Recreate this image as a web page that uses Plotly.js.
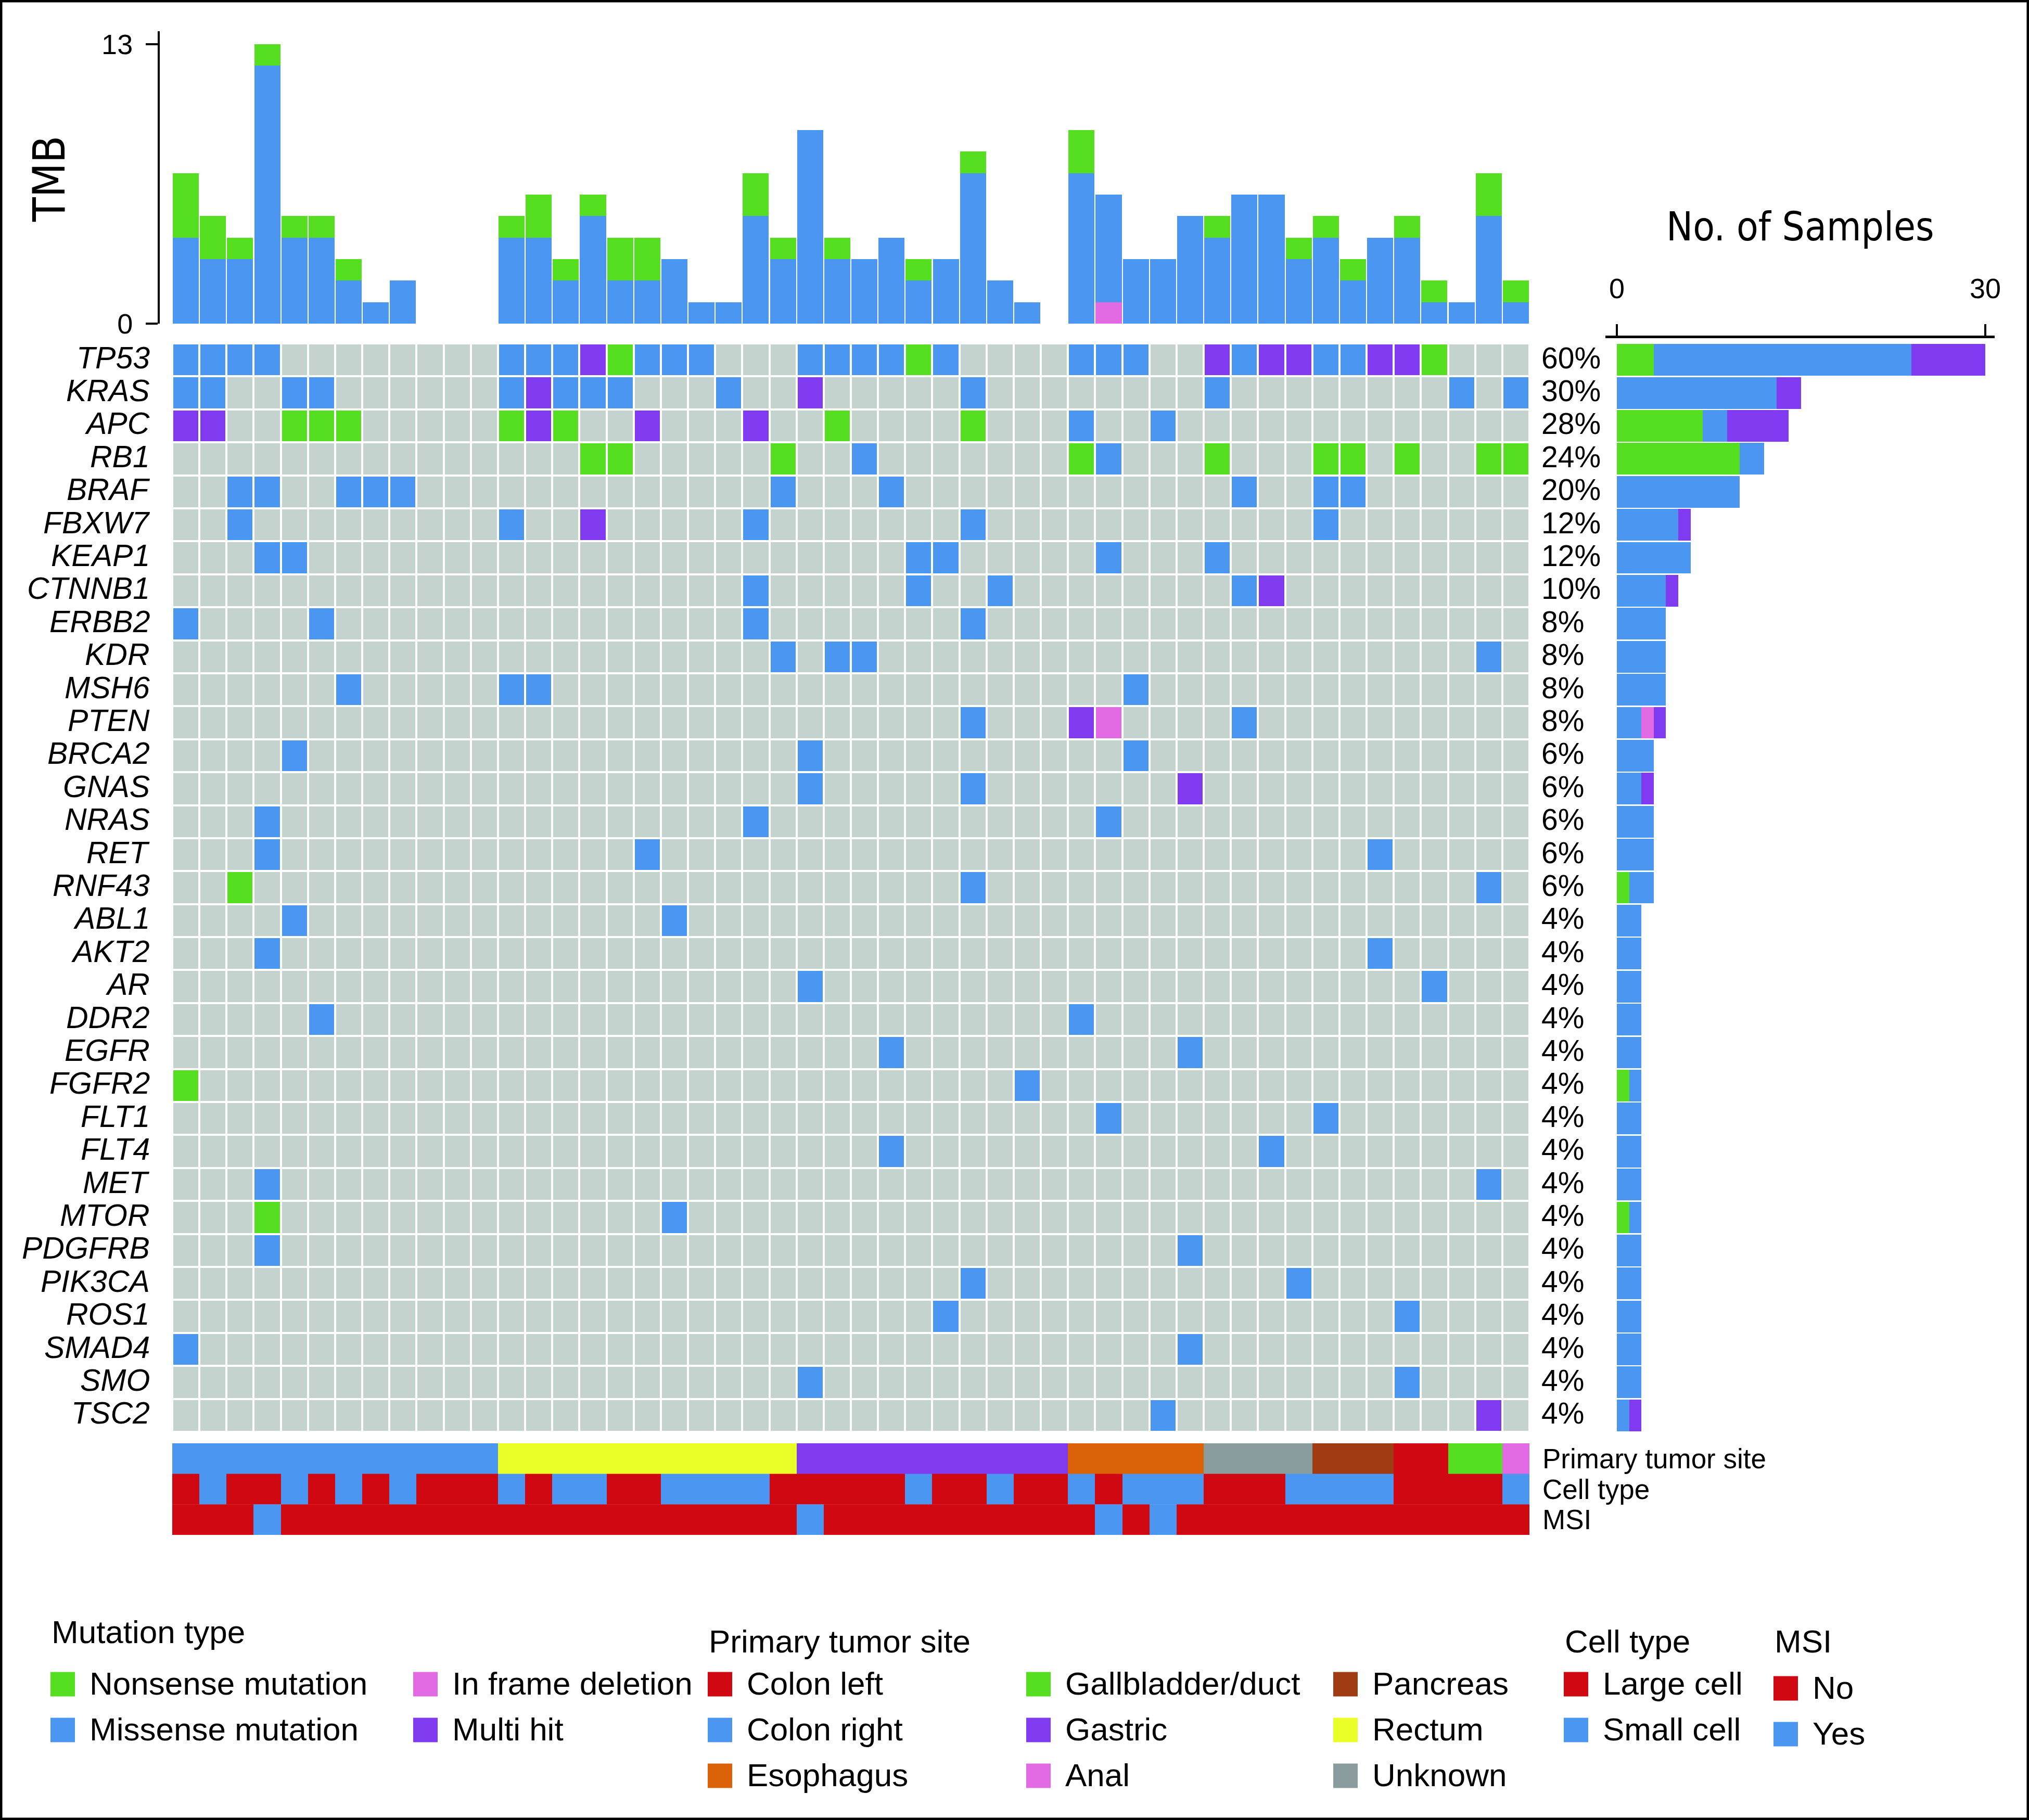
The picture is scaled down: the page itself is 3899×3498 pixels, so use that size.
<!DOCTYPE html>
<html><head><meta charset="utf-8">
<script src="https://cdn.plot.ly/plotly-3.0.1.min.js"></script>
<style>html,body{margin:0;padding:0;background:#fff;} #chart{width:3899px;height:3498px;}</style>
</head><body><div id="chart"></div>
<script>
// ---------------- DATA ----------------
const genes = ['TP53','KRAS','APC','RB1','BRAF','FBXW7','KEAP1','CTNNB1','ERBB2','KDR','MSH6','PTEN','BRCA2','GNAS','NRAS','RET','RNF43','ABL1','AKT2','AR','DDR2','EGFR','FGFR2','FLT1','FLT4','MET','MTOR','PDGFRB','PIK3CA','ROS1','SMAD4','SMO','TSC2'];

// sample positions (0-based columns) carrying each alteration, one list per gene
const missenseIdx = [
  [0,1,2,3,12,13,14,17,18,19,23,24,25,26,28,33,34,35,39,42,43], // TP53
  [0,1,4,5,12,14,15,16,20,29,38,47,49], // KRAS
  [33,36],            // APC
  [25,34],            // RB1
  [2,3,6,7,8,22,26,39,42,43], // BRAF
  [2,12,21,29,42],    // FBXW7
  [3,4,27,28,34,38],  // KEAP1
  [21,27,30,39],      // CTNNB1
  [0,5,21,29],        // ERBB2
  [22,24,25,48],      // KDR
  [6,12,13,35],       // MSH6
  [29,39],            // PTEN
  [4,23,35],          // BRCA2
  [23,29],            // GNAS
  [3,21,34],          // NRAS
  [3,17,44],          // RET
  [29,48],            // RNF43
  [4,18],             // ABL1
  [3,44],             // AKT2
  [23,46],            // AR
  [5,33],             // DDR2
  [26,37],            // EGFR
  [31],               // FGFR2
  [34,42],            // FLT1
  [26,40],            // FLT4
  [3,48],             // MET
  [18],               // MTOR
  [3,37],             // PDGFRB
  [29,41],            // PIK3CA
  [28,45],            // ROS1
  [0,37],             // SMAD4
  [23,45],            // SMO
  [36]                // TSC2
];
const nonsenseIdx = [
  [16,27,46],                         // TP53
  [],                                 // KRAS
  [4,5,6,12,14,24,29],                // APC
  [15,16,22,33,38,42,43,45,48,49],    // RB1
  [], [], [], [], [], [], [], [], [], [], [], [], // BRAF .. RET
  [2],                                // RNF43
  [], [], [], [], [],                 // ABL1 AKT2 AR DDR2 EGFR
  [0],                                // FGFR2
  [], [], [],                         // FLT1 FLT4 MET
  [3],                                // MTOR
  [], [], [], [], [], []              // PDGFRB .. TSC2
];
const inframeIdx = [
  [], [], [], [], [], [], [], [], [], [], [], // TP53 .. MSH6
  [34],                                       // PTEN
  [], [], [], [], [], [], [], [], [], [], [], [], [], [], [], [], [], [], [], [], [] // BRCA2 .. TSC2
];
const multiHitIdx = [
  [15,38,40,41,44,45], // TP53
  [13,23],             // KRAS
  [0,1,13,17,21],      // APC
  [], [],              // RB1 BRAF
  [15],                // FBXW7
  [],                  // KEAP1
  [40],                // CTNNB1
  [], [], [],          // ERBB2 KDR MSH6
  [33],                // PTEN
  [],                  // BRCA2
  [37],                // GNAS
  [], [], [], [], [], [], [], [], [], [], [], [], [], [], [], [], [], [], // NRAS .. SMO
  [48]                 // TSC2
];

// TMB per sample (stacked)
const tmbMissense = [4,3,3,12,4,4,2,1,2,0,0,0,4,4,2,5,2,2,3,1,1,5,3,9,3,3,4,2,3,7,2,1,0,7,5,3,3,5,4,6,6,3,4,2,4,4,1,1,5,1];
const tmbNonsense = [3,2,1,1,1,1,1,0,0,0,0,0,1,2,1,1,2,2,0,0,0,2,1,0,1,0,0,1,0,1,0,0,0,2,0,0,0,0,1,0,0,1,1,1,0,1,1,0,2,1];
const tmbInframe  = [0,0,0,0,0,0,0,0,0,0,0,0,0,0,0,0,0,0,0,0,0,0,0,0,0,0,0,0,0,0,0,0,0,0,1,0,0,0,0,0,0,0,0,0,0,0,0,0,0,0];

// sample annotations
const sampleSite = [
  'Colon right','Colon right','Colon right','Colon right','Colon right','Colon right','Colon right','Colon right','Colon right','Colon right','Colon right','Colon right',
  'Rectum','Rectum','Rectum','Rectum','Rectum','Rectum','Rectum','Rectum','Rectum','Rectum','Rectum',
  'Gastric','Gastric','Gastric','Gastric','Gastric','Gastric','Gastric','Gastric','Gastric','Gastric',
  'Esophagus','Esophagus','Esophagus','Esophagus','Esophagus',
  'Unknown','Unknown','Unknown','Unknown',
  'Pancreas','Pancreas','Pancreas',
  'Colon left','Colon left',
  'Gallbladder/duct','Gallbladder/duct',
  'Anal'];
const sampleCell = [
  'Large cell','Small cell','Large cell','Large cell','Small cell','Large cell','Small cell','Large cell','Small cell','Large cell',
  'Large cell','Large cell','Small cell','Large cell','Small cell','Small cell','Large cell','Large cell','Small cell','Small cell',
  'Small cell','Small cell','Large cell','Large cell','Large cell','Large cell','Large cell','Small cell','Large cell','Large cell',
  'Small cell','Large cell','Large cell','Small cell','Large cell','Small cell','Small cell','Small cell','Large cell','Large cell',
  'Large cell','Small cell','Small cell','Small cell','Small cell','Large cell','Large cell','Large cell','Large cell','Small cell'];
const sampleMSI = [
  'No','No','No','Yes','No','No','No','No','No','No',
  'No','No','No','No','No','No','No','No','No','No',
  'No','No','No','Yes','No','No','No','No','No','No',
  'No','No','No','No','Yes','No','Yes','No','No','No',
  'No','No','No','No','No','No','No','No','No','No'];

// categories & colours
const mutLabels = ['None','Missense mutation','Nonsense mutation','In frame deletion','Multi hit'];
const mutColors = ['#C5D3CF','#4A96F0','#55DF20','#E26AE2','#803AF0'];
const siteCats   = ['Colon left','Colon right','Esophagus','Gallbladder/duct','Gastric','Anal','Pancreas','Rectum','Unknown'];
const siteColors = ['#D00812','#4A96F0','#DC620A','#55DF20','#803AF0','#E26AE2','#A03C14','#EAFF28','#8A9C9E'];
const cellCats   = ['Large cell','Small cell'];
const cellColors = ['#D00812','#4A96F0'];
const msiCats    = ['No','Yes'];
const msiColors  = ['#D00812','#4A96F0'];
const trackLabels = ['Primary tumor site','Cell type','MSI'];

// ---------------- LAYOUT HELPERS ----------------
const W = 3899, H = 3498;
const PX = v => v / W, PY = v => 1 - v / H;
const FONT = 'Liberation Sans, Arial, Helvetica, sans-serif';
const NARROW = 'Liberation Sans Narrow, Arial Narrow, DejaVu Sans Condensed, sans-serif';
const nS = sampleSite.length;
const sampleIdx = sampleSite.map((_, i) => i);
const geneIdx = genes.map((_, i) => i);

function discrete(colors) {
  const n = colors.length, out = [];
  colors.forEach((c, i) => { out.push([i / n, c]); out.push([(i + 1) / n, c]); });
  return out;
}

// matrix codes
const z = genes.map((g, gi) => {
  const row = new Array(nS).fill(0);
  missenseIdx[gi].forEach(s => row[s] = 1);
  nonsenseIdx[gi].forEach(s => row[s] = 2);
  inframeIdx[gi].forEach(s => row[s] = 3);
  multiHitIdx[gi].forEach(s => row[s] = 4);
  return row;
});

const traces = [];
// TMB stacked bars
[[tmbInframe, mutColors[3]], [tmbMissense, mutColors[1]], [tmbNonsense, mutColors[2]]].forEach(([v, c]) => {
  traces.push({type:'bar', x: sampleIdx, y: v, xaxis:'x', yaxis:'y', marker:{color:c, line:{width:0}}, hoverinfo:'skip'});
});
// oncoprint matrix
traces.push({type:'heatmap', x: sampleIdx, y: geneIdx, z: z, xaxis:'x', yaxis:'y2',
  colorscale: discrete(mutColors), zmin:-0.5, zmax:mutColors.length - 0.5, showscale:false,
  xgap:4, ygap:4, hoverinfo:'skip'});
// per-gene sample counts (right)
[[nonsenseIdx, mutColors[2]], [missenseIdx, mutColors[1]], [inframeIdx, mutColors[3]], [multiHitIdx, mutColors[4]]].forEach(([arr, c]) => {
  traces.push({type:'bar', orientation:'h', x: arr.map(a => a.length), y: geneIdx, xaxis:'x2', yaxis:'y2',
    marker:{color:c, line:{width:0}}, hoverinfo:'skip'});
});
// annotation tracks
[[sampleSite, siteCats, siteColors], [sampleCell, cellCats, cellColors], [sampleMSI, msiCats, msiColors]].forEach(([vals, cats, cols], k) => {
  traces.push({type:'heatmap', x: sampleIdx, y:[k], z:[vals.map(v => cats.indexOf(v))], xaxis:'x', yaxis:'y3',
    colorscale: discrete(cols), zmin:-0.5, zmax:cols.length - 0.5, showscale:false, hoverinfo:'skip'});
});

const annotations = [];
// gene names + percentages
genes.forEach((g, gi) => {
  annotations.push({text:'<i>' + g + '</i>', xref:'paper', x:PX(290), xanchor:'right', yref:'y2', y:gi, yanchor:'middle', yshift:4,
    showarrow:false, font:{family:FONT, size:59, color:'#000'}});
  const cnt = new Set([...missenseIdx[gi], ...nonsenseIdx[gi], ...inframeIdx[gi], ...multiHitIdx[gi]]).size;
  annotations.push({text: Math.round(100 * cnt / nS) + '%', xref:'paper', x:PX(2960), xanchor:'left', yref:'y2', y:gi, yanchor:'middle', yshift:4,
    showarrow:false, font:{family:FONT, size:57, color:'#000'}});
});
trackLabels.forEach((t, k) => {
  annotations.push({text:t, xref:'paper', x:PX(2962), xanchor:'left', yref:'y3', y:k, yanchor:'middle',
    showarrow:false, font:{family:FONT, size:53, color:'#000'}});
});
annotations.push({text:'TMB', textangle:-90, xref:'paper', yref:'paper', x:PX(95), y:PY(344), xanchor:'center', yanchor:'middle',
  showarrow:false, font:{family:NARROW, size:85, color:'#000'}});
annotations.push({text:'No. of Samples', xref:'paper', yref:'paper', x:PX(3459), y:PY(436), xanchor:'center', yanchor:'middle',
  showarrow:false, font:{family:NARROW, size:76, color:'#000'}});

// legend (drawn as key swatches + text)
const rowY = [3237, 3325, 3413];
const legendGroups = [
  {title:'Mutation type', tx:97, ty:3136, dy:0, colX:[97, 794],
   cols:[[[mutLabels[2], mutColors[2]], [mutLabels[1], mutColors[1]]], [[mutLabels[3], mutColors[3]], [mutLabels[4], mutColors[4]]]]},
  {title:'Primary tumor site', tx:1360, ty:3154, dy:0, colX:[1360, 1972, 2562],
   cols:[[0,1,2], [3,4,5], [6,7,8]].map(c => c.map(i => [siteCats[i], siteColors[i]]))},
  {title:'Cell type', tx:3005, ty:3154, dy:0, colX:[3005], cols:[cellCats.map((c, i) => [c, cellColors[i]])]},
  {title:'MSI', tx:3408, ty:3154, dy:8, colX:[3408], cols:[msiCats.map((c, i) => [c, msiColors[i]])]}
];
const shapes = [];
legendGroups.forEach(gp => {
  annotations.push({text:gp.title, xref:'paper', yref:'paper', x:PX(gp.tx), y:PY(gp.ty), xanchor:'left', yanchor:'middle',
    showarrow:false, font:{family:FONT, size:62, color:'#000'}});
  gp.cols.forEach((col, ci) => {
    col.forEach(([lab, c], ri) => {
      const cy = rowY[ri] + gp.dy, lx = gp.colX[ci];
      shapes.push({type:'rect', xref:'paper', yref:'paper', x0:PX(lx), x1:PX(lx + 47), y0:PY(cy + 23.5), y1:PY(cy - 23.5),
        fillcolor:c, line:{width:0}});
      annotations.push({text:lab, xref:'paper', yref:'paper', x:PX(lx + 73), y:PY(cy - 2), xanchor:'left', yanchor:'middle',
        showarrow:false, font:{family:FONT, size:62, color:'#000'}});
    });
  });
});
// outer frame
shapes.push({type:'rect', xref:'paper', yref:'paper', x0:0, x1:1, y0:0, y1:1, line:{color:'#000', width:9}, fillcolor:'rgba(0,0,0,0)'});

const hidden = {showline:false, showticklabels:false, showgrid:false, zeroline:false, ticks:''};
const layout = {
  width:W, height:H, margin:{l:0, r:0, t:0, b:0, pad:0},
  paper_bgcolor:'#fff', plot_bgcolor:'rgba(0,0,0,0)',
  showlegend:false, hovermode:false, barmode:'stack', bargap:0.04,
  font:{family:FONT, color:'#000'},
  xaxis: Object.assign({domain:[PX(331), PX(2939)], range:[-0.5, nS - 0.5], anchor:'y'}, hidden),
  yaxis: {domain:[PY(622), PY(60)], range:[0, 13.6], anchor:'free', position:PX(305),
    showline:true, linewidth:4, linecolor:'#000', ticks:'outside', ticklen:23, tickwidth:4, tickcolor:'#000',
    tickvals:[0, 13], tickfont:{family:FONT, size:54, color:'#000'}, showgrid:false, zeroline:false, ticklabelstandoff:14},
  yaxis2: Object.assign({domain:[PY(2752), PY(660)], range:[genes.length - 0.5, -0.5], anchor:'x'}, hidden),
  xaxis2: {domain:[PX(3085), PX(3833)], range:[-0.932, 30.763], anchor:'free', position:PY(647), side:'top',
    showline:true, linewidth:5, linecolor:'#000', ticks:'outside', ticklen:22, tickwidth:4, tickcolor:'#000',
    tickvals:[0, 30], tickfont:{family:FONT, size:54, color:'#000'}, showgrid:false, zeroline:false, ticklabelstandoff:28},
  yaxis3: Object.assign({domain:[PY(2950), PY(2774)], range:[2.5, -0.5], anchor:'x'}, hidden),
  annotations: annotations,
  shapes: shapes
};

Plotly.newPlot('chart', traces, layout, {staticPlot:true, displayModeBar:false});
</script></body></html>
